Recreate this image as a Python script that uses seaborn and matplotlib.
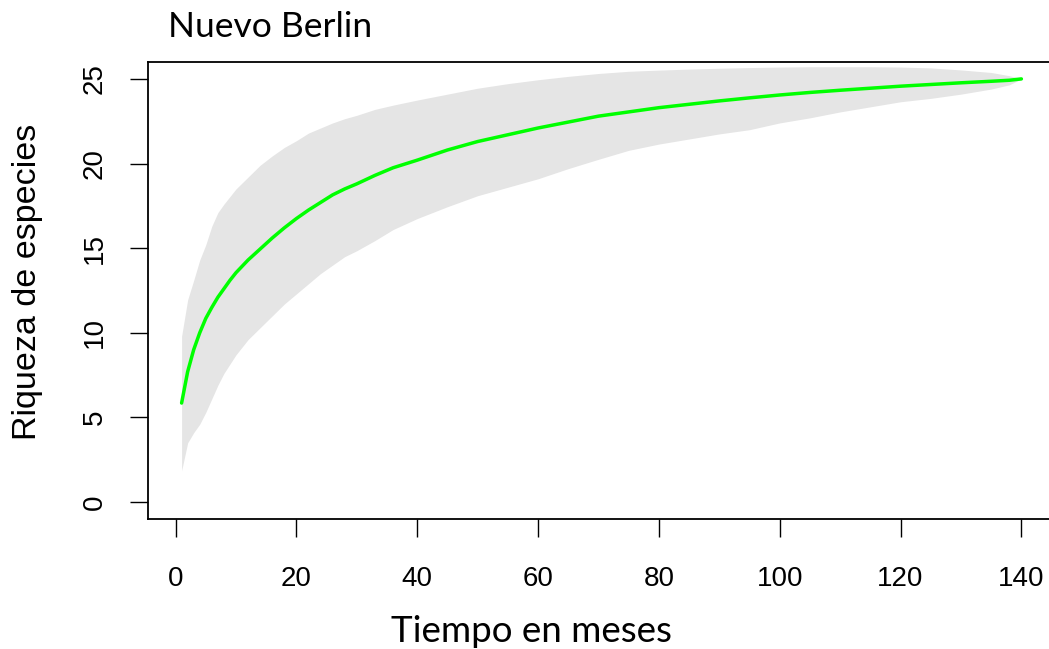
import matplotlib
matplotlib.use("Agg")
import matplotlib.pyplot as plt
import seaborn as sns
import pandas as pd

# Species accumulation curve: mean richness and the band around it
months = [1, 2, 3, 4, 5, 6, 7, 8, 9, 10, 12, 14, 16, 18, 20, 22, 24, 26, 28, 30,
          33, 36, 40, 45, 50, 55, 60, 65, 70, 75, 80, 85, 90, 95, 100, 105, 110,
          115, 120, 125, 130, 135, 138, 140]
richness = [5.85, 7.7, 9.0, 10.0, 10.85, 11.5, 12.1, 12.6, 13.1, 13.55, 14.3, 14.95,
            15.6, 16.2, 16.75, 17.25, 17.7, 18.15, 18.5, 18.8, 19.3, 19.75, 20.2,
            20.8, 21.3, 21.7, 22.1, 22.45, 22.8, 23.05, 23.3, 23.5, 23.7, 23.88,
            24.05, 24.2, 24.33, 24.45, 24.57, 24.67, 24.77, 24.86, 24.92, 25.0]
upper = [9.8, 11.95, 13.1, 14.3, 15.2, 16.3, 17.1, 17.6, 18.05, 18.5, 19.2, 19.9,
         20.45, 20.95, 21.35, 21.8, 22.1, 22.4, 22.65, 22.85, 23.2, 23.45, 23.75,
         24.1, 24.45, 24.72, 24.95, 25.15, 25.32, 25.45, 25.52, 25.58, 25.63, 25.67,
         25.7, 25.72, 25.72, 25.72, 25.7, 25.65, 25.53, 25.38, 25.19, 25.0]
lower = [1.85, 3.5, 4.1, 4.6, 5.3, 6.1, 6.9, 7.6, 8.15, 8.7, 9.6, 10.3, 11.0, 11.7,
         12.3, 12.9, 13.5, 14.0, 14.5, 14.85, 15.45, 16.1, 16.75, 17.45, 18.1, 18.6,
         19.1, 19.7, 20.25, 20.78, 21.15, 21.45, 21.75, 22.0, 22.4, 22.7, 23.05,
         23.35, 23.65, 23.85, 24.1, 24.4, 24.65, 25.0]

x_ticks = [0, 20, 40, 60, 80, 100, 120, 140]
y_ticks = [0, 5, 10, 15, 20, 25]

title = "Nuevo Berlin"
x_label = "Tiempo en meses"
y_label = "Riqueza de especies"

df = pd.DataFrame({"mes": months, "riqueza": richness, "sup": upper, "inf": lower})

sns.set_theme(style="white")
plt.rcParams["font.family"] = ["Liberation Sans", "DejaVu Sans"]
plt.rcParams["text.color"] = "black"
plt.rcParams["axes.labelcolor"] = "black"
plt.rcParams["xtick.color"] = "black"
plt.rcParams["ytick.color"] = "black"

arial = ["Liberation Sans", "DejaVu Sans"]
calibri_like = ["Lato", "DejaVu Sans"]

fig = plt.figure(figsize=(10.49, 6.49), dpi=100)
ax = fig.add_axes([0.1411, 0.2003, 0.8646, 0.7042])

ax.fill_between(df["mes"], df["inf"], df["sup"], color="#E5E5E5", linewidth=0)
sns.lineplot(data=df, x="mes", y="riqueza", color="#00FF00", linewidth=2.5, ax=ax)

span_x = months[-1] - months[0]
ax.set_xlim(months[0] - 0.04 * span_x, months[-1] + 0.04 * span_x)
ax.set_ylim(-1, 26)
ax.set_xticks(x_ticks)
ax.set_yticks(y_ticks)
ax.set_xticklabels([str(t) for t in x_ticks], fontsize=20, family=arial, color="black")
ax.set_yticklabels([str(t) for t in y_ticks], fontsize=20, family=arial, color="black",
                   rotation=90, va="center")

ax.tick_params(axis="both", direction="out", length=13, width=1.0, color="black",
               bottom=True, left=True)
ax.tick_params(axis="x", pad=21)
ax.tick_params(axis="y", pad=16)

for s in ax.spines.values():
    s.set_visible(True)
    s.set_color("black")
    s.set_linewidth(1.3)

ax.set_xlabel(x_label, family=calibri_like, fontsize=26.5, color="black", va="baseline")
ax.xaxis.set_label_coords(0.4223, -0.269)
ax.set_ylabel(y_label, family=arial, fontsize=24.5, color="black", va="center")
ax.yaxis.set_label_coords(-0.1334, 0.5186)

fig.text(168 / 1049, 1 - 37 / 649, title, family=calibri_like, fontsize=25.5,
         ha="left", va="baseline", color="black")

fig.savefig("out.png", dpi=100)
